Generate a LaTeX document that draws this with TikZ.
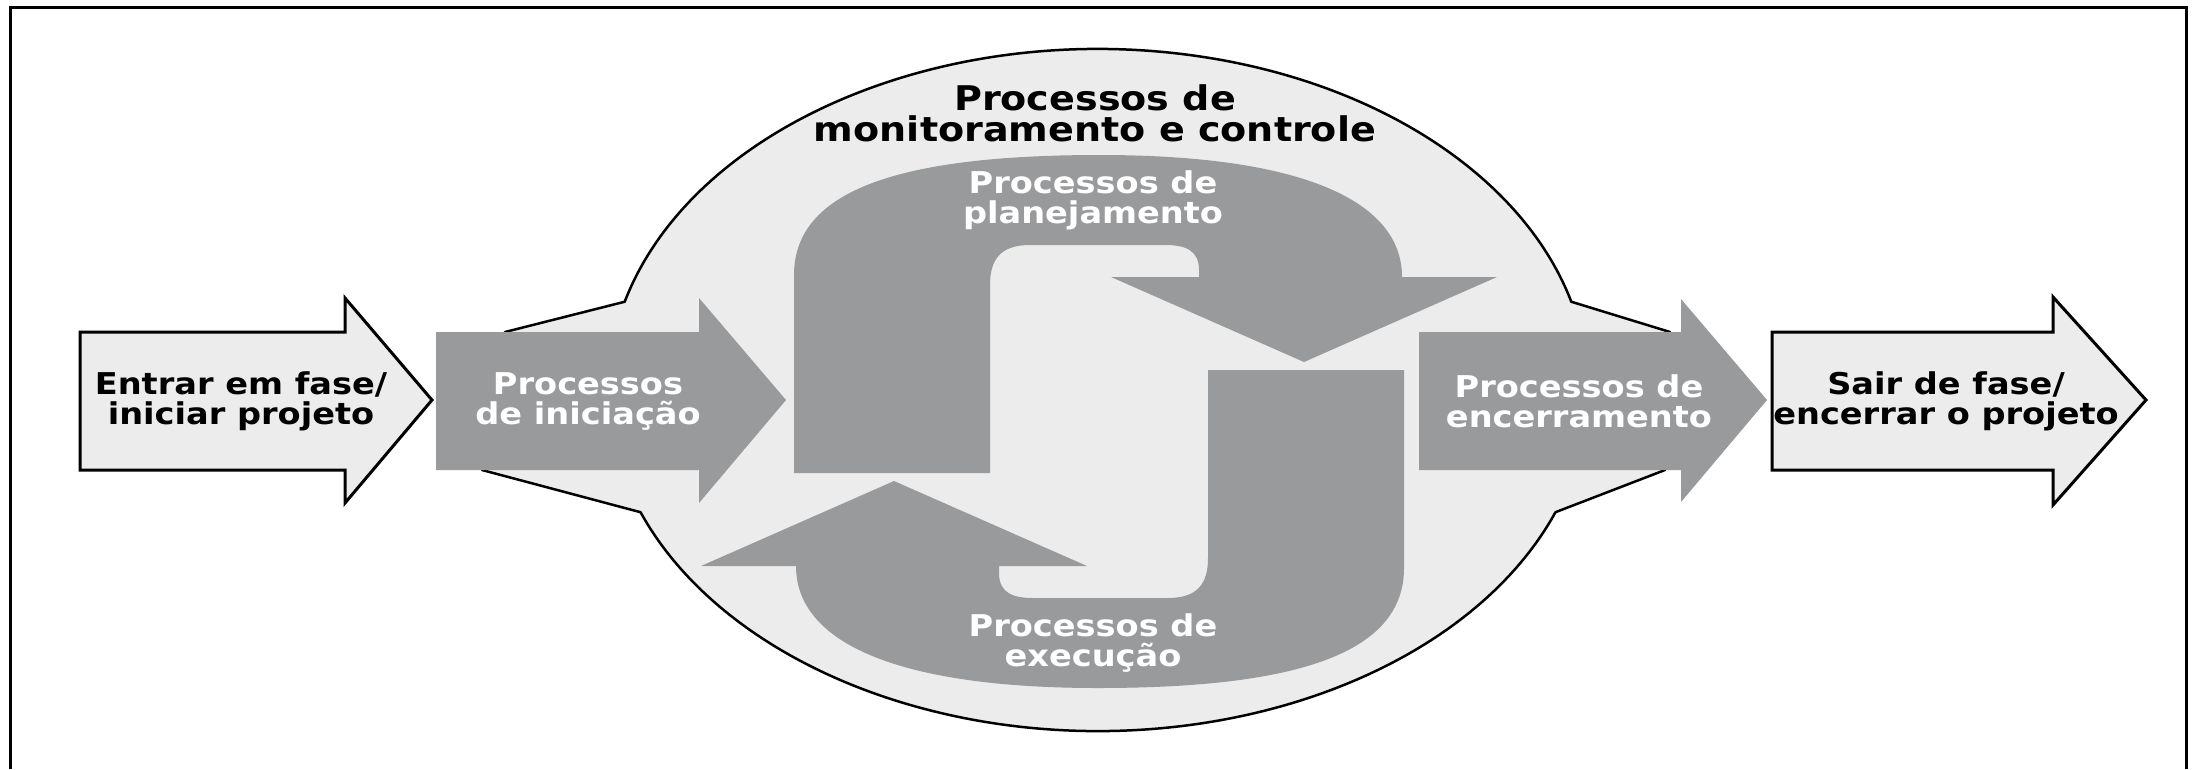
\documentclass[tikz,border=0pt]{standalone}
\usepackage{fontspec}
\newfontfamily\lblfont{DejaVu Sans}[FakeStretch=1.12]
\definecolor{arrowgray}{RGB}{153,154,156}
\definecolor{blobfill}{RGB}{236,236,236}
\begin{document}
\begin{tikzpicture}[x=1pt,y=-1pt,
  lbl/.style={font=\lblfont\bfseries\fontsize{30}{30}\selectfont, align=center, inner sep=0pt},
  biglbl/.style={font=\lblfont\bfseries\fontsize{34}{31}\selectfont, align=center, inner sep=0pt},
  grayarrow/.style={fill=arrowgray},
  openarrow/.style={draw=black, fill=blobfill, line width=3, line join=miter},
  gshape/.style={fill=arrowgray}]
\useasboundingbox (0,0) rectangle (2199,769);
\fill[white] (0,0) rectangle (2199,769);
% frame
\draw[line width=3] (10,769) -- (10,7) -- (2186,7) -- (2186,769);
% monitoring blob
\draw[fill=blobfill, line width=2.5, line join=round]
  (505,332) -- ({1098+490*cos(195)},{390+341*sin(195)})
  arc[start angle=195, end angle=345, x radius=490, y radius=341]
  -- (1670,332) -- (1665,470) -- ({1098+490*cos(21)},{390+341*sin(21)})
  arc[start angle=21, end angle=159, x radius=490, y radius=341]
  -- (482,470) -- cycle;
% planning shape
\fill[arrowgray] (794,473) -- (794,275) .. controls (794,190) and (900,155) .. (1100,155)
  .. controls (1300,155) and (1402,200) .. (1402,277) -- (1497,277) -- (1304,362) -- (1111,277)
  -- (1199,277) -- (1199,270) .. controls (1199,250) and (1185,245) .. (1165,245) -- (1030,245)
  .. controls (1000,245) and (990,260) .. (990,285) -- (990,473) -- cycle;
% execution shape (point-symmetric copy)
\begin{scope}[rotate around={180:(1099,421.5)}]
\fill[arrowgray] (794,473) -- (794,275) .. controls (794,190) and (900,155) .. (1100,155)
  .. controls (1300,155) and (1402,200) .. (1402,277) -- (1497,277) -- (1304,362) -- (1111,277)
  -- (1199,277) -- (1199,270) .. controls (1199,250) and (1185,245) .. (1165,245) -- (1030,245)
  .. controls (1000,245) and (990,260) .. (990,285) -- (990,473) -- cycle;
\end{scope}
% arrows
\draw[openarrow] (80,332) -- (345,332) -- (345,298) -- (432,400) -- (345,503) -- (345,470) -- (80,470) -- cycle;
\fill[grayarrow] (436,332) -- (699,332) -- (699,298) -- (786,400) -- (699,503) -- (699,470) -- (436,470) -- cycle;
\fill[grayarrow] (1419,332) -- (1681,332) -- (1681,299) -- (1767,400) -- (1681,502) -- (1681,470) -- (1419,470) -- cycle;
\draw[openarrow] (1772,332) -- (2053,332) -- (2053,297) -- (2146,400) -- (2053,505) -- (2053,470) -- (1772,470) -- cycle;
% labels
\node[lbl] (entrar) at (241,401) {Entrar em fase/\\iniciar projeto};
\node[lbl, text=white] (inic) at (588,401) {Processos\\de iniciação};
\node[lbl, text=white] (encer) at (1579,401) {Processos de\\encerramento};
\node[lbl] (sair) at (1946,401) {Sair de fase/\\encerrar o projeto};
\node[biglbl] (monit) at (1095,113) {Processos de\\monitoramento e controle};
\node[lbl, text=white] (plan) at (1093,200) {Processos de\\planejamento};
\node[lbl, text=white] (exec) at (1093,643) {Processos de\\execução};
\end{tikzpicture}
\end{document}
